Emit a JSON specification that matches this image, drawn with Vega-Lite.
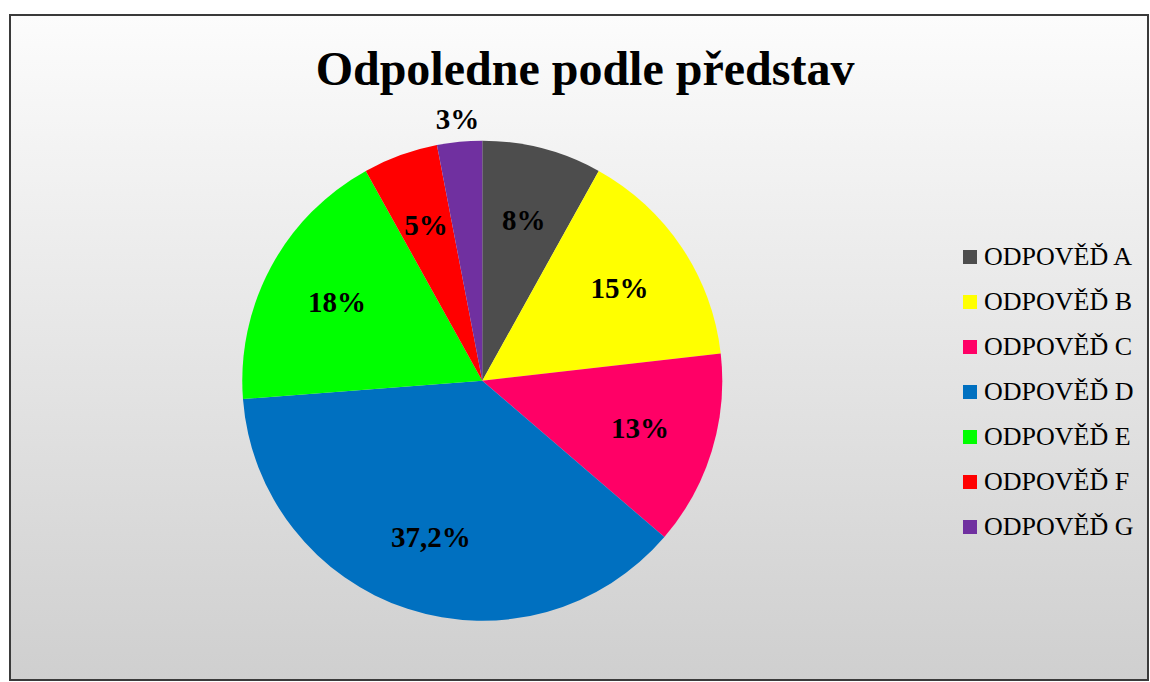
{
  "$schema": "https://vega.github.io/schema/vega-lite/v6.json",
  "autosize": {"type": "fit", "contains": "padding"},
  "width": 1150,
  "height": 682,
  "padding": {"top": 15, "left": 10, "right": 2, "bottom": 2},
  "background": "#ffffff",
  "title": {
    "text": "Odpoledne podle představ",
    "font": "Liberation Serif",
    "fontSize": 48,
    "fontWeight": "bold",
    "color": "#000000",
    "anchor": "middle",
    "frame": "group",
    "offset": -80,
    "dx": 6
  },
  "view": {
    "stroke": "#3a3a3a",
    "strokeWidth": 2,
    "fill": {
      "gradient": "linear",
      "x1": 0, "y1": 0, "x2": 0, "y2": 1,
      "stops": [
        {"offset": 0, "color": "#fcfcfc"},
        {"offset": 1, "color": "#cfcfcf"}
      ]
    }
  },
  "data": {
    "values": [
      {"answer": "ODPOVĚĎ A", "value": 8, "label": "8%", "order": 1},
      {"answer": "ODPOVĚĎ B", "value": 15, "label": "15%", "order": 2},
      {"answer": "ODPOVĚĎ C", "value": 13, "label": "13%", "order": 3},
      {"answer": "ODPOVĚĎ D", "value": 37.2, "label": "37,2%", "order": 4},
      {"answer": "ODPOVĚĎ E", "value": 18, "label": "18%", "order": 5},
      {"answer": "ODPOVĚĎ F", "value": 5, "label": "5%", "order": 6},
      {"answer": "ODPOVĚĎ G", "value": 3, "label": "3%", "order": 7}
    ]
  },
  "encoding": {
    "theta": {"field": "value", "type": "quantitative", "stack": true},
    "order": {"field": "order", "type": "quantitative"},
    "color": {
      "field": "answer",
      "type": "nominal",
      "scale": {
        "domain": ["ODPOVĚĎ A", "ODPOVĚĎ B", "ODPOVĚĎ C", "ODPOVĚĎ D", "ODPOVĚĎ E", "ODPOVĚĎ F", "ODPOVĚĎ G"],
        "range": ["#4d4d4d", "#ffff00", "#ff0066", "#0070c0", "#00ff00", "#ff0000", "#7030a0"]
      },
      "legend": {
        "title": null,
        "orient": "none",
        "legendX": 947,
        "legendY": 229,
        "symbolType": "square",
        "symbolSize": 196,
        "symbolStrokeWidth": 0,
        "labelFont": "Liberation Serif",
        "labelFontSize": 26,
        "labelColor": "#000000",
        "labelOffset": 1,
        "rowPadding": 19
      }
    }
  },
  "layer": [
    {
      "mark": {"type": "arc", "radius": 240, "x": {"expr": "width * 0.415"}, "y": {"expr": "height * 0.55"}}
    },
    {
      "mark": {
        "type": "text",
        "radius": 165,
        "x": {"expr": "width * 0.415"},
        "y": {"expr": "height * 0.55"},
        "font": "Liberation Serif",
        "fontSize": 29,
        "fontWeight": "bold"
      },
      "encoding": {
        "text": {"field": "label", "type": "nominal"},
        "color": {"value": "#000000"},
        "opacity": {"condition": {"test": "datum.order === 7", "value": 0}, "value": 1}
      }
    },
    {
      "mark": {
        "type": "text",
        "radius": 262,
        "x": {"expr": "width * 0.415"},
        "y": {"expr": "height * 0.55"},
        "font": "Liberation Serif",
        "fontSize": 29,
        "fontWeight": "bold"
      },
      "encoding": {
        "text": {"field": "label", "type": "nominal"},
        "color": {"value": "#000000"},
        "opacity": {"condition": {"test": "datum.order === 7", "value": 1}, "value": 0}
      }
    }
  ]
}
